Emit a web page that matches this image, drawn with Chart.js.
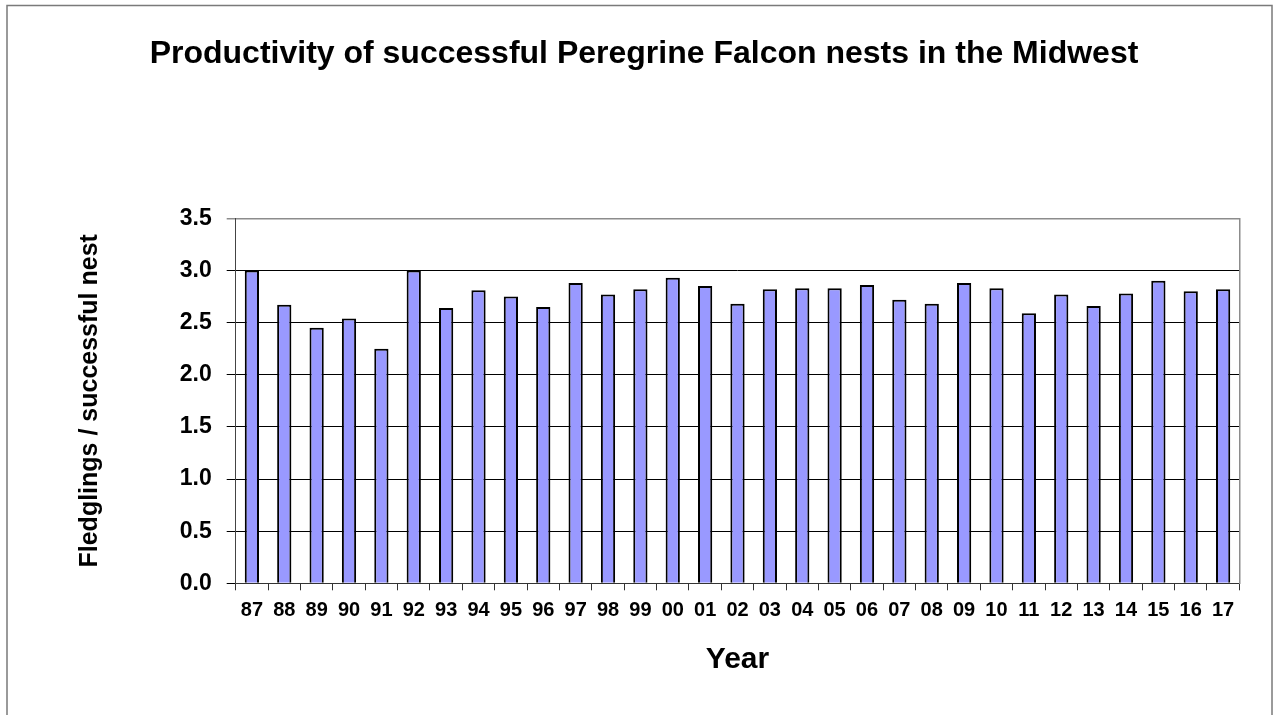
<!DOCTYPE html>
<html>
<head>
<meta charset="utf-8">
<script src="https://cdn.jsdelivr.net/npm/chart.js@4/dist/chart.umd.min.js"></script>
<style>
  html, body { margin: 0; padding: 0; background: #fff; }
  canvas { display: block; }
</style>
</head>
<body>
<canvas id="graph" width="1276" height="715"></canvas>
<script>
// years on the x axis
const years = ['87', '88', '89', '90', '91', '92', '93', '94', '95', '96', '97', '98', '99',
  '00', '01', '02', '03', '04', '05', '06', '07', '08', '09', '10', '11', '12', '13', '14', '15', '16', '17'];

// fledglings per successful nest
const fledglings = [3.00, 2.67, 2.45, 2.54, 2.25, 3.00, 2.64, 2.81, 2.75, 2.65, 2.88, 2.77, 2.82,
  2.93, 2.85, 2.68, 2.82, 2.83, 2.83, 2.86, 2.72, 2.68, 2.88, 2.83, 2.59, 2.77, 2.66, 2.78, 2.90, 2.80, 2.82];

const yTicks = [0, 0.5, 1, 1.5, 2, 2.5, 3, 3.5];

const FONT = 'Arial, "Liberation Sans", Helvetica, sans-serif';

// white background + outer frame of the chart
const framePlugin = {
  id: 'frame',
  beforeDraw(chart) {
    const ctx = chart.ctx;
    ctx.save();
    ctx.fillStyle = '#fff';
    ctx.fillRect(0, 0, chart.width, chart.height);
    ctx.restore();
  },
  afterDraw(chart) {
    const ctx = chart.ctx;
    ctx.save();
    ctx.strokeStyle = '#7a7a7a';
    ctx.lineWidth = 1.5;
    ctx.strokeRect(7, 5.5, 1265, 730);
    ctx.restore();
  }
};

const ctx = document.getElementById('graph').getContext('2d');
const chart = new Chart(ctx, {
  type: 'bar',
  data: {
    labels: years,
    datasets: [{
      label: 'Fledglings / successful nest',
      data: fledglings,
      backgroundColor: '#9999ff',
      borderColor: '#000',
      borderWidth: 2,
      barPercentage: 0.44,
      categoryPercentage: 1.0
    }]
  },
  options: {
    responsive: false,
    animation: false,
    devicePixelRatio: 1,
    layout: { padding: { left: 12, right: 0, top: 0, bottom: 0 } },
    plugins: {
      legend: { display: false },
      tooltip: { enabled: false },
      title: {
        display: true,
        text: 'Productivity of successful Peregrine Falcon nests in the Midwest',
        color: '#000',
        font: { family: FONT, size: 32, weight: 'bold', lineHeight: 1.2 },
        padding: { top: 35, bottom: 144.9 }
      }
    },
    scales: {
      x: {
        grid: {
          offset: true,
          drawOnChartArea: false,
          tickLength: 7,
          color: '#333'
        },
        border: { color: '#333', width: 1 },
        ticks: {
          color: '#000',
          padding: 8,
          maxRotation: 0,
          autoSkip: false,
          font: { family: FONT, size: 20, weight: 'bold' }
        },
        title: {
          display: true,
          text: 'Year',
          color: '#000',
          font: { family: FONT, size: 30, weight: 'bold', lineHeight: 1.2 },
          padding: { top: 0, bottom: 37 }
        },
        afterFit(scale) { scale.height = 131.7; }
      },
      y: {
        min: 0,
        max: 3.5,
        afterBuildTicks(scale) { scale.ticks = yTicks.map(v => ({ value: v })); },
        grid: {
          tickLength: 9,
          color: ctx => (ctx.tick && ctx.tick.value === 3.5) ? '#8c8c8c' : '#000',
          lineWidth: ctx => (ctx.tick && ctx.tick.value === 3.5) ? 1.5 : 1
        },
        border: { color: '#444', width: 1 },
        ticks: {
          color: '#000',
          padding: 15,
          font: { family: FONT, size: 23, weight: 'bold' },
          callback: v => Number(v).toFixed(1)
        },
        title: {
          display: true,
          text: 'Fledglings / successful nest',
          color: '#000',
          font: { family: FONT, size: 25, weight: 'bold', lineHeight: 1.2 },
          padding: { top: 63, bottom: 0 }
        },
        afterFit(scale) { scale.width = 223.7; }
      },
      // empty right axis: only gives the plot its grey right edge
      yRight: {
        position: 'right',
        display: true,
        min: 0,
        max: 3.5,
        grid: { drawOnChartArea: false, drawTicks: false },
        border: { color: '#8c8c8c', width: 1.5 },
        ticks: { display: false },
        afterFit(scale) { scale.width = 36.7; }
      }
    }
  },
  plugins: [framePlugin]
});
</script>
</body>
</html>
